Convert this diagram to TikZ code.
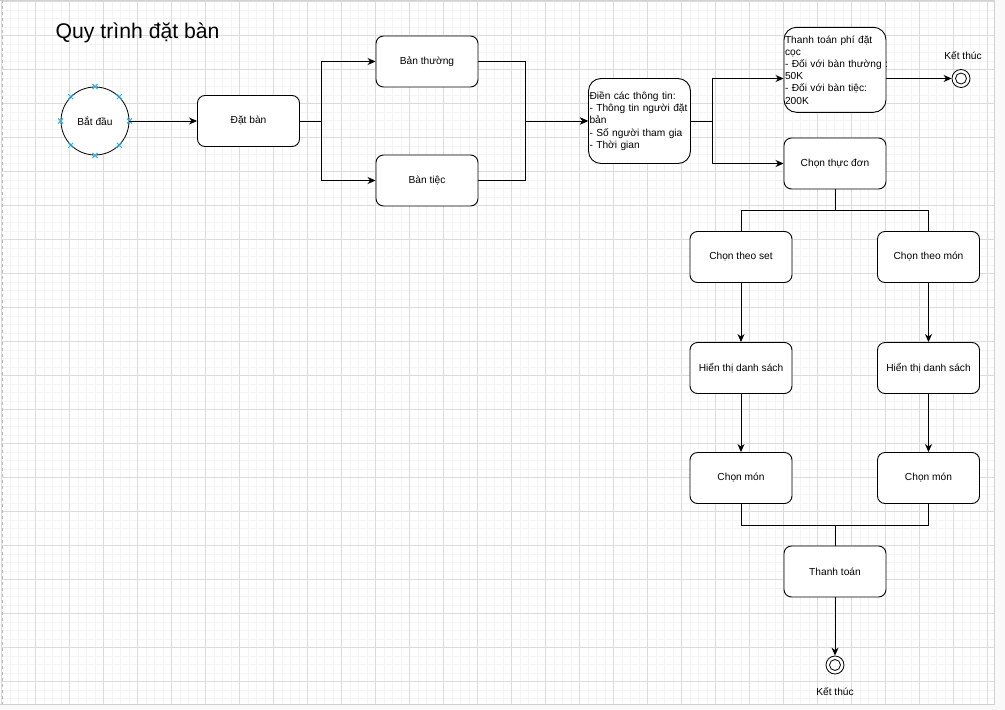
\documentclass[tikz,border=0pt]{standalone}
\usepackage{fontspec}
\setmainfont{Liberation Sans}
\usetikzlibrary{arrows.meta,calc}
\definecolor{cpblue}{HTML}{29B6F2}
\tikzset{
  box/.style={draw, line width=0.9pt, rounded corners=7.5pt, minimum width=102pt, minimum height=51pt,
    font=\fontsize{10.2}{12.2}\selectfont, align=center, fill=white},
  leftbox/.style={box, rounded corners=12.5pt, text width=100pt, inner xsep=1pt, align=left, minimum height=85pt},
  conn/.style={draw, line width=0.9pt, -{Stealth[length=8pt,width=7pt,inset=2.5pt]}},
  plain/.style={draw, line width=0.9pt},
  endstate/.style={draw, circle, line width=0.8pt, minimum size=18pt, inner sep=0pt, fill=white},
  lbl/.style={font=\fontsize{10.2}{12.2}\selectfont},
  minorgrid/.style={line width=0.4pt, color=gray!9},
  majorgrid/.style={line width=0.5pt, color=gray!28},
}
\begin{document}
\begin{tikzpicture}[x=1pt, y=-1pt]
\useasboundingbox (0,0) rectangle (1005,710);
% page background and grid
\fill[white] (0,0) rectangle (994,704);
\fill[gray!5] (994,0) rectangle (1005,710);
\fill[gray!5] (0,704) rectangle (1005,710);
\foreach \x in {1.3,9.8,...,994} \draw[minorgrid] (\x,0) -- (\x,704);
\foreach \y in {1.3,9.8,...,704} \draw[minorgrid] (2,\y) -- (994,\y);
\foreach \x in {1.3,35.3,...,994} \draw[majorgrid] (\x,0) -- (\x,704);
\foreach \y in {1.3,35.3,...,704} \draw[majorgrid] (2,\y) -- (994,\y);
\draw[gray!35, line width=0.8pt] (994,0) -- (994,704) -- (0,704);
\draw[gray!35, line width=0.5pt] (0,0.7) -- (994,0.7);
\draw[gray!55, line width=0.8pt, dashed] (2.5,0) -- (2.5,704);

% title
\node[anchor=west, font=\fontsize{21.2}{24}\selectfont, inner sep=0pt] (title) at (55.5,33) {Quy trình đặt bàn};

% nodes
\node[draw, circle, line width=0.8pt, minimum size=68pt, inner sep=0pt, fill=white, lbl] (start) at (95,121) {Bắt đầu};
\node[box] (datban) at (248.5,121) {Đặt bàn};
\node[box] (banthuong) at (427,61.5) {Bản thường};
\node[box] (bantiec) at (427,180.5) {Bàn tiệc};
\node[leftbox] (dien) at (639.5,121) {Điền các thông tin:\\- Thông tin người đặt\\bản\\- Số người tham gia\\- Thời gian};
\node[leftbox] (ttphi) at (835,69.8) {Thanh toán phí đặt\\cọc\\\mbox{- Đối với bàn thường :}\\50K\\- Đối với bàn tiệc:\\200K};
\node[box] (thucdon) at (835,163.5) {Chọn thực đơn};
\node[box] (set) at (741,257) {Chọn theo set};
\node[box] (mon) at (928.5,257) {Chọn theo món};
\node[box] (hien1) at (741,368) {Hiển thị danh sách};
\node[box] (hien2) at (928.5,368) {Hiển thị danh sách};
\node[box] (chon1) at (741,478) {Chọn món};
\node[box] (chon2) at (928.5,478) {Chọn món};
\node[box] (thanhtoan) at (835,571.5) {Thanh toán};
\node[endstate] (end1) at (961,78.5) {};
\draw[line width=0.8pt] (end1.center) circle (5.5pt);
\node[endstate] (end2) at (835,665) {};
\draw[line width=0.8pt] (end2.center) circle (5.5pt);
\node[lbl] (endlbl1) at (963,56) {Kết thúc};
\node[lbl] (endlbl2) at (835,691.5) {Kết thúc};

% connection point markers on start circle
\foreach \a in {0,45,...,315}
  \draw[cpblue, line width=1pt] ($(start.\a)+(-2.5,-2.5)$) -- ++(5,5) ($(start.\a)+(-2.5,2.5)$) -- ++(5,-5);

% connectors
\coordinate (ttin) at ($(ttphi.west)+(0,8.7)$);
\coordinate (ttout) at ($(ttphi.east)+(0,8.7)$);
\draw[conn] (start) -- (datban);
\draw[conn] (datban.east) -- ++(21.5,0) |- (banthuong.west);
\draw[conn] (datban.east) -- ++(21.5,0) |- (bantiec.west);
\draw[conn] (banthuong.east) -- ++(46.7,0) |- (dien.west);
\draw[conn] (bantiec.east) -- ++(46.7,0) |- (dien.west);
\draw[conn] (dien.east) -- ++(21.5,0) |- (ttin);
\draw[conn] (dien.east) -- ++(21.5,0) |- (thucdon.west);
\draw[conn] (ttout) -- (end1);
\draw[plain] (thucdon.south) -- ++(0,21) -| (set.north);
\draw[plain] (thucdon.south) -- ++(0,21) -| (mon.north);
\draw[conn] (set) -- (hien1);
\draw[conn] (mon) -- (hien2);
\draw[conn] (hien1) -- (chon1);
\draw[conn] (hien2) -- (chon2);
\draw[plain] (chon1.south) -- ++(0,21.5) -| (thanhtoan.north);
\draw[plain] (chon2.south) -- ++(0,21.5) -| (thanhtoan.north);
\draw[conn] (thanhtoan) -- (end2);
\end{tikzpicture}
\end{document}
